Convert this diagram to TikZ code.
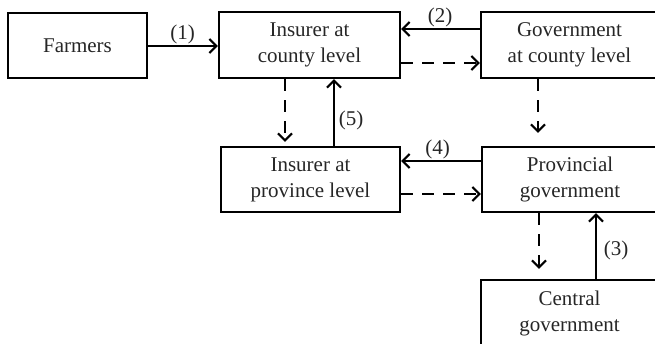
\documentclass[tikz,border=0pt]{standalone}
\usepackage{fontspec}
\setmainfont{Liberation Serif}
\usetikzlibrary{arrows.meta}
\begin{document}
\begin{tikzpicture}[x=1pt,y=-1pt,
  box/.style={draw,line width=2.2pt,rectangle,inner sep=0pt,align=center,
    font=\fontsize{21}{26}\selectfont,text=black!85},
  lbl/.style={inner sep=0pt,font=\fontsize{21}{26}\selectfont,text=black!85},
  flow/.style={line width=2.2pt,-{Straight Barb[length=7pt,width=14pt,line width=2.2pt]}},
  dflow/.style={flow,dash pattern=on 12pt off 9pt}]
\useasboundingbox (0,0) rectangle (655,343);
\clip (0,0) rectangle (655,343);
\node[box,minimum width=139pt,minimum height=65pt] (farm) at (77.5,45.5) {Farmers};
\node[box,minimum width=181pt,minimum height=66pt] (icty) at (309.5,45) {Insurer at\\county level};
\node[box,minimum width=177pt,minimum height=66pt] (gcty) at (569.5,45) {Government\\at county level};
\node[box,minimum width=179pt,minimum height=65pt] (iprv) at (310.5,179.5) {Insurer at\\province level};
\node[box,minimum width=176pt,minimum height=65pt] (gprv) at (570,179.5) {Provincial\\government};
\node[box,minimum width=177pt,minimum height=66pt] (cent) at (569.5,313) {Central\\government};
% solid arrows
\draw[flow] (farm.east |- 0,46) -- (icty.west |- 0,46);
\draw[flow] (gcty.west |- 0,29) -- (icty.east |- 0,29);
\draw[flow] (iprv.north -| 334,0) -- (icty.south -| 334,0);
\draw[flow] (gprv.west |- 0,161) -- (iprv.east |- 0,161);
\draw[flow] (cent.north -| 596,0) -- (gprv.south -| 596,0);
% dashed arrows
\draw[dflow] (icty.east |- 0,63) -- (gcty.west |- 0,63);
\draw[dflow,shorten >=4pt] (icty.south -| 285,0) -- (iprv.north -| 285,0);
\draw[dflow,shorten >=13pt] (gcty.south -| 538,0) -- (gprv.north -| 538,0);
\draw[dflow] (iprv.east |- 0,194) -- (gprv.west |- 0,194);
\draw[dflow,shorten >=10pt] (gprv.south -| 539,0) -- (cent.north -| 539,0);
% labels
\node[lbl] (l1) at (182.5,34) {(1)};
\node[lbl] (l2) at (440,17) {(2)};
\node[lbl] (l5) at (351,120) {(5)};
\node[lbl] (l4) at (437.5,149) {(4)};
\node[lbl] (l3) at (616,250) {(3)};
\end{tikzpicture}
\end{document}
